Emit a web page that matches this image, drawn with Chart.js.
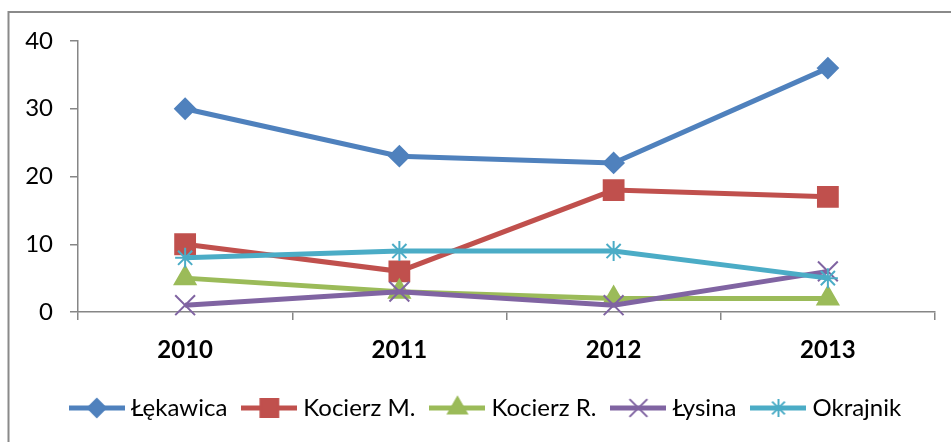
<!DOCTYPE html>
<html><head><meta charset="utf-8">
<script src="https://cdn.jsdelivr.net/npm/chart.js@4/dist/chart.umd.min.js"></script>
<style>html,body{margin:0;padding:0;background:#fff}#wrap{width:951px;height:442px;position:relative}</style>
</head><body><div id="wrap"><canvas id="c" width="951" height="442"></canvas></div>
<script>
const categories = ['2010', '2011', '2012', '2013'];
const seriesNames = ['Łękawica', 'Kocierz M.', 'Kocierz R.', 'Łysina', 'Okrajnik'];
const lekawica = [30, 23, 22, 36];
const kocierzM = [10, 6, 18, 17];
const kocierzR = [5, 3, 2, 2];
const lysina = [1, 3, 1, 6];
const okrajnik = [8, 9, 9, 5];
const yTicks = [0, 10, 20, 30, 40];

const seriesValues = [lekawica, kocierzM, kocierzR, lysina, okrajnik];
const colors = ['#4F81BD', '#C0504D', '#9BBB59', '#8064A2', '#4BACC6'];
const markers = ['rectRot', 'rect', 'triangle', 'crossRot', 'star'];
const radii = [10, 14, 12, 14, 10];
const FONT = "Lato, 'Open Sans', sans-serif";
const AXIS = '#868686';

function legendIcon(i) {
  const cv = document.createElement('canvas');
  cv.width = 56; cv.height = 30;
  const ctx = cv.getContext('2d');
  ctx.strokeStyle = colors[i];
  ctx.lineWidth = 5;
  ctx.beginPath(); ctx.moveTo(0, 15); ctx.lineTo(56, 15); ctx.stroke();
  ctx.fillStyle = colors[i];
  ctx.strokeStyle = colors[i];
  ctx.lineWidth = 2;
  Chart.helpers.drawPoint(ctx, {pointStyle: markers[i], radius: radii[i] * 0.9, rotation: 0, borderWidth: 2}, 28, 15);
  return cv;
}

const borderPlugin = {
  id: 'outerBorder',
  afterLayout(chart) {
    if (chart.legend) { chart.legend.left = 40; }
  },
  afterDraw(chart) {
    const ctx = chart.ctx;
    ctx.save();
    ctx.strokeStyle = '#8a8a8a';
    ctx.lineWidth = 2;
    ctx.beginPath();
    ctx.moveTo(8.5, 442); ctx.lineTo(8.5, 12); ctx.lineTo(951, 12);
    ctx.stroke();
    ctx.restore();
  }
};

const datasets = seriesNames.map((name, i) => ({
  label: name,
  data: seriesValues[i],
  borderColor: colors[i],
  backgroundColor: colors[i],
  borderWidth: 5,
  tension: 0,
  pointStyle: markers[i],
  pointRadius: radii[i],
  pointHoverRadius: radii[i],
  pointBackgroundColor: colors[i],
  pointBorderColor: colors[i],
  pointBorderWidth: 2,
  order: seriesNames.length - i,
  clip: false
}));

new Chart(document.getElementById('c'), {
  type: 'line',
  data: { labels: categories, datasets },
  plugins: [borderPlugin],
  options: {
    responsive: false,
    devicePixelRatio: 1,
    animation: false,
    layout: { padding: { left: 0, right: 15, top: 41, bottom: 12 } },
    plugins: {
      tooltip: { enabled: false },
      legend: {
        position: 'bottom',
        labels: {
          usePointStyle: true,
          pointStyleWidth: 44,
          padding: 20,
          color: '#000',
          font: { family: FONT, size: 24 },
          generateLabels(chart) {
            return chart.data.datasets.map((ds, i) => ({
              text: ds.label,
              pointStyle: legendIcon(i),
              fillStyle: colors[i],
              strokeStyle: colors[i],
              lineWidth: 0,
              fontColor: '#000',
              hidden: false,
              datasetIndex: i
            }));
          }
        }
      }
    },
    scales: {
      x: {
        type: 'category',
        offset: true,
        grid: { display: true, offset: true, drawOnChartArea: false, drawTicks: true, tickLength: 8, color: AXIS, lineWidth: 1.5 },
        border: { display: true, color: AXIS, width: 1.5 },
        ticks: { color: '#000', padding: 16, font: { family: FONT, size: 24, weight: 'bold' } },
        afterFit(scale) { scale.height = 64; }
      },
      y: {
        min: 0, max: 40,
        afterBuildTicks(scale) { scale.ticks = yTicks.map(v => ({ value: v })); },
        grid: { display: true, drawOnChartArea: false, drawTicks: true, tickLength: 8, color: AXIS, lineWidth: 1.5 },
        border: { display: true, color: AXIS, width: 1.5 },
        ticks: { color: '#000', padding: 17, font: { family: FONT, size: 24 } },
        afterFit(scale) { scale.width = 78; }
      }
    }
  }
});
</script>
</body></html>
